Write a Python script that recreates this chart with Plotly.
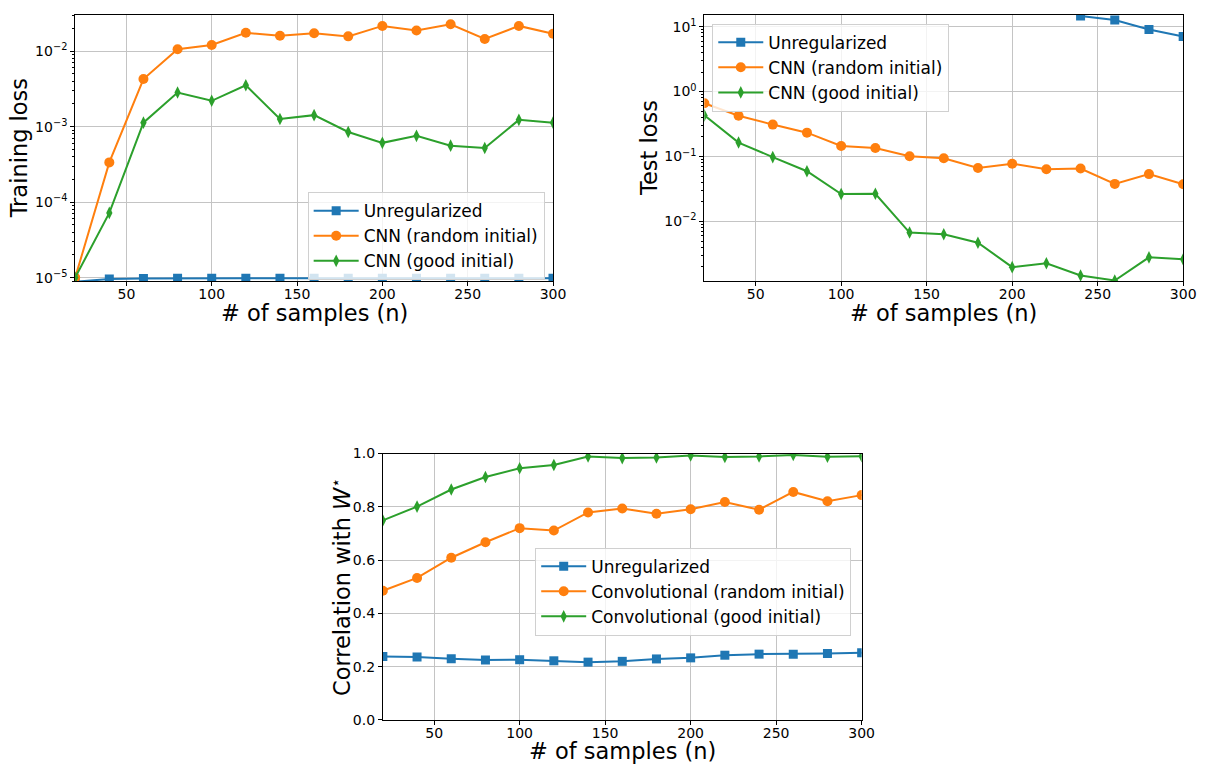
import plotly.graph_objects as go

# ---------------- data ----------------
n_samples = [20, 40, 60, 80, 100, 120, 140, 160, 180, 200, 220, 240, 260, 280, 300]

train_unreg = [8.8e-6, 9.6e-6, 9.7e-6, 9.8e-6, 9.8e-6, 9.8e-6, 9.8e-6, 9.8e-6,
               9.8e-6, 9.8e-6, 9.8e-6, 9.8e-6, 9.8e-6, 9.8e-6, 9.8e-6]
train_cnn_random = [1.0e-5, 3.36e-4, 4.27e-3, 0.0106, 0.0121, 0.0175, 0.0160, 0.0173,
                    0.0157, 0.0216, 0.0188, 0.0227, 0.0145, 0.0216, 0.0170]
train_cnn_good = [1.0e-5, 7.2e-5, 1.13e-3, 2.83e-3, 2.2e-3, 3.53e-3, 1.26e-3, 1.42e-3,
                  8.5e-4, 6.1e-4, 7.55e-4, 5.6e-4, 5.2e-4, 1.23e-3, 1.13e-3]

test_unreg = [None, None, None, None, None, None, None, None,
              None, None, None, 14.6, 12.6, 9.0, 7.07]
test_cnn_random = [0.66, 0.425, 0.31, 0.233, 0.145, 0.135, 0.101, 0.094,
                   0.0667, 0.0775, 0.0637, 0.0652, 0.0379, 0.0536, 0.0374]
test_cnn_good = [0.43, 0.164, 0.098, 0.0594, 0.0264, 0.0267, 6.75e-3, 6.37e-3,
                 4.71e-3, 1.98e-3, 2.27e-3, 1.47e-3, 1.23e-3, 2.8e-3, 2.61e-3]

corr_unreg = [0.238, 0.236, 0.230, 0.225, 0.226, 0.222, 0.217, 0.220,
              0.229, 0.233, 0.243, 0.247, 0.247, 0.249, 0.252]
corr_conv_random = [0.485, 0.533, 0.609, 0.667, 0.720, 0.711, 0.779, 0.794,
                    0.774, 0.791, 0.818, 0.789, 0.856, 0.821, 0.844]
corr_conv_good = [0.749, 0.801, 0.865, 0.912, 0.945, 0.957, 0.989, 0.983,
                  0.985, 0.993, 0.987, 0.989, 0.995, 0.988, 0.990]

x_ticks = [50, 100, 150, 200, 250, 300]
train_ticks = [1e-5, 1e-4, 1e-3, 1e-2]
train_ticktext = ["10<sup>−5</sup>", "10<sup>−4</sup>", "10<sup>−3</sup>", "10<sup>−2</sup>"]
test_ticks = [1e-2, 1e-1, 1, 10]
test_ticktext = ["10<sup>−2</sup>", "10<sup>−1</sup>", "10<sup>0</sup>", "10<sup>1</sup>"]
corr_ticks = [0.0, 0.2, 0.4, 0.6, 0.8, 1.0]

labels_top = ["Unregularized", "CNN (random initial)", "CNN (good initial)"]
labels_bottom = ["Unregularized", "Convolutional (random initial)", "Convolutional (good initial)"]

x_title = "# of samples (n)"
y_titles = ["Training loss", "Test loss", "Correlation with <i>W</i><sup>⋆</sup>"]

# ---------------- style ----------------
BLUE, ORANGE, GREEN = "#1f77b4", "#ff7f0e", "#2ca02c"
FONT = "DejaVu Sans"
GRID = "#c4c4c4"
W, H = 1212, 772

markers = [dict(symbol="square", size=9, color=BLUE),
           dict(symbol="circle", size=10, color=ORANGE),
           dict(symbol="diamond-tall", size=9, color=GREEN)]
colors = [BLUE, ORANGE, GREEN]

# axes boxes in pixels: (left, right, top, bottom)
boxes = [(76, 559, 7, 279), (712, 1196, 7, 279), (387, 871, 455, 727)]

fig = go.Figure()

panels = [
    ("x", "y", "legend", [train_unreg, train_cnn_random, train_cnn_good], labels_top),
    ("x2", "y2", "legend2", [test_unreg, test_cnn_random, test_cnn_good], labels_top),
    ("x3", "y3", "legend3", [corr_unreg, corr_conv_random, corr_conv_good], labels_bottom),
]
for pi, (xa, ya, lg, series, labels) in enumerate(panels):
    for si, (vals, lab) in enumerate(zip(series, labels)):
        fig.add_trace(go.Scatter(
            x=n_samples, y=vals, name=lab, mode="lines+markers",
            line=dict(color=colors[si], width=2),
            marker=markers[si],
            xaxis=xa, yaxis=ya, legend=lg,
            legendgroup=f"p{pi}s{si}",
            connectgaps=False,
        ))


def minor_vals(lo, hi):
    out = []
    for e in range(lo, hi + 1):
        for m in range(2, 10):
            out.append(m * 10.0 ** e)
    return out


def xdom(b):
    return [b[0] / W, b[1] / W]


def ydom(b):
    return [1 - b[3] / H, 1 - b[2] / H]


xcommon = dict(range=[20, 300], tickvals=x_ticks, showgrid=True, gridcolor=GRID, gridwidth=1,
               showline=True, linecolor="black", linewidth=1, mirror=True,
               ticks="outside", ticklen=4, tickwidth=1, tickcolor="black",
               tickfont=dict(family=FONT, size=14, color="black"),
               ticklabelstandoff=-4, zeroline=False)
ycommon = dict(showgrid=True, gridcolor=GRID, gridwidth=1,
               showline=True, linecolor="black", linewidth=1, mirror=True,
               ticks="outside", ticklen=4, tickwidth=1, tickcolor="black",
               tickfont=dict(family=FONT, size=14, color="black"),
               zeroline=False)

fig.update_layout(
    width=W, height=H, autosize=False,
    margin=dict(l=0, r=0, t=0, b=0),
    paper_bgcolor="white", plot_bgcolor="white",
    font=dict(family=FONT, color="black"),
    xaxis=dict(xcommon, domain=xdom(boxes[0]), anchor="y"),
    yaxis=dict(ycommon, domain=ydom(boxes[0]), anchor="x", type="log", range=[-5.048, -1.519],
               tickmode="array", tickvals=train_ticks, ticktext=train_ticktext,
               minor=dict(tickmode="array", tickvals=minor_vals(-6, -2), ticks="outside",
                          ticklen=2, tickcolor="black", showgrid=False)),
    xaxis2=dict(xcommon, domain=xdom(boxes[1]), anchor="y2"),
    yaxis2=dict(ycommon, domain=ydom(boxes[1]), anchor="x2", type="log", range=[-2.92, 1.181],
                tickmode="array", tickvals=test_ticks, ticktext=test_ticktext,
                minor=dict(tickmode="array", tickvals=minor_vals(-3, 1), ticks="outside",
                           ticklen=2, tickcolor="black", showgrid=False)),
    xaxis3=dict(xcommon, domain=xdom(boxes[2]), anchor="y3"),
    yaxis3=dict(ycommon, domain=ydom(boxes[2]), anchor="x3", range=[0, 1],
                tickmode="array", tickvals=corr_ticks, tickformat=".1f"),
)

# axis titles as annotations (precise placement)
title_font = dict(family=FONT, size=22.5, color="black")
ylabel_x = [19.5, 656, 344]
for b, yt, yx in zip(boxes, y_titles, ylabel_x):
    fig.add_annotation(text=x_title, xref="paper", yref="paper",
                       x=(b[0] + b[1]) / 2 / W, y=1 - (b[3] + 32) / H,
                       xanchor="center", yanchor="middle", showarrow=False, font=title_font)
    fig.add_annotation(text=yt, xref="paper", yref="paper", textangle=-90,
                       x=yx / W, y=1 - (b[2] + b[3]) / 2 / H,
                       xanchor="center", yanchor="middle", showarrow=False, font=title_font)

legend_style = dict(bgcolor="rgba(255,255,255,0.8)", bordercolor="#d0d0d0", borderwidth=1,
                    font=dict(family=FONT, size=17, color="black"),
                    xanchor="left", yanchor="top", traceorder="grouped", tracegroupgap=0,
                    itemwidth=45)
fig.update_layout(
    legend=dict(legend_style, x=311 / W, y=1 - 188 / H),
    legend2=dict(legend_style, x=720 / W, y=1 - 16 / H),
    legend3=dict(legend_style, x=541 / W, y=1 - 551 / H),
)

fig.write_html(
    "out.html",
    config={"displayModeBar": False},
    post_script=("document.documentElement.style.margin='0';"
                 "document.body.style.margin='0';"
                 "document.documentElement.style.overflow='hidden';"
                 "document.body.style.overflow='hidden';"),
)
